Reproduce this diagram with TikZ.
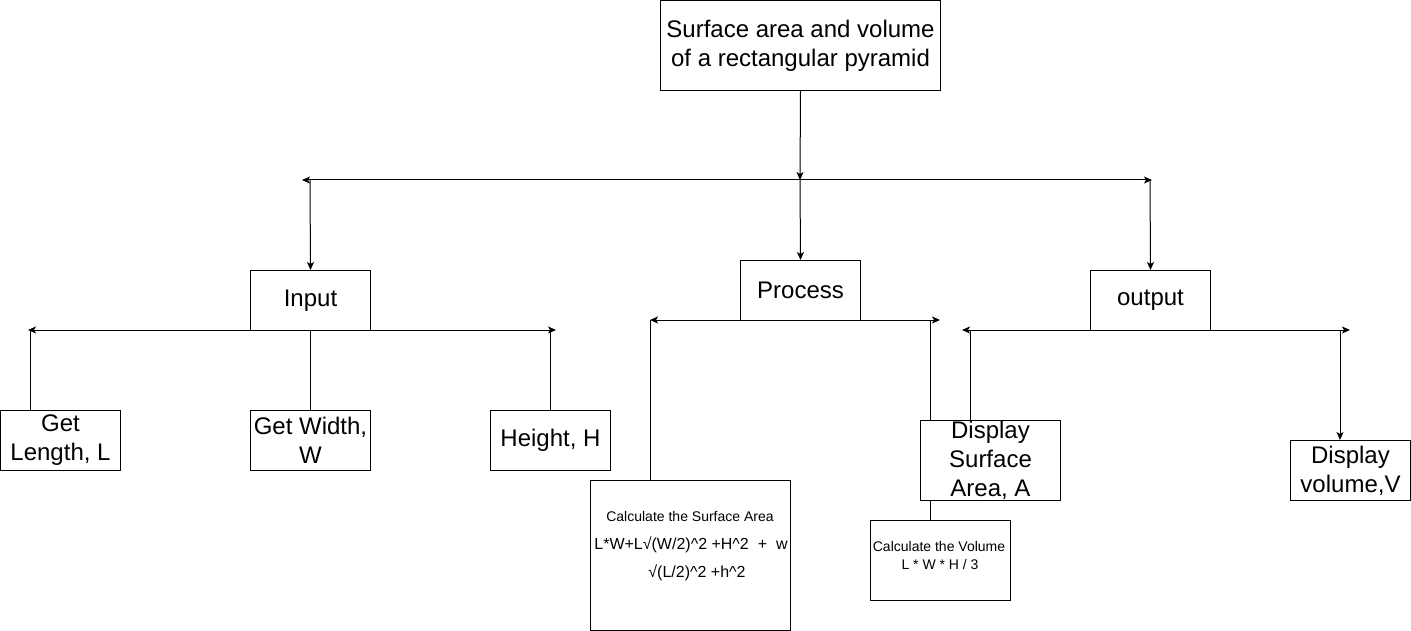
\documentclass[tikz,border=0pt]{standalone}
\usepackage{fontspec}
\setmainfont{Liberation Sans}
\usetikzlibrary{arrows.meta,backgrounds}
\begin{document}
\begin{tikzpicture}[x=1pt,y=-1pt,
  box/.style={draw, line width=1pt, fill=white, inner sep=0pt, anchor=north west, align=center, font=\fontsize{24}{28.8}\selectfont},
  small/.style={inner sep=0pt, anchor=base, font=\fontsize{14}{16.8}\selectfont},
  mid/.style={inner sep=0pt, anchor=base, font=\fontsize{16}{19.2}\selectfont},
  conn/.style={line width=1pt},
  arr/.style={conn, -{Stealth[length=8pt,width=7pt,inset=2pt]}},
  darr/.style={conn, {Stealth[length=8pt,width=7pt,inset=2pt]}-{Stealth[length=8pt,width=7pt,inset=2pt]}}
]
\useasboundingbox (0,0) rectangle (1411,631);
% boxes
\node[box, minimum width=280pt, minimum height=90pt] (top) at (660,0) {Surface area and volume\\of a rectangular pyramid};
\node[box, minimum width=120pt, minimum height=60pt] (input) at (250,270) {Input};
\node[box, minimum width=120pt, minimum height=60pt] (process) at (740,260) {Process};
\node[box, minimum width=120pt, minimum height=60pt] (output) at (1090,270) {output};
\node[box, minimum width=120pt, minimum height=60pt] (len) at (0,410) {Get\\Length, L};
\node[box, minimum width=120pt, minimum height=60pt] (wid) at (250,410) {Get Width,\\W};
\node[box, minimum width=120pt, minimum height=60pt] (hei) at (490,410) {Height, H};
\node[box, minimum width=200pt, minimum height=150pt] (calcsa) at (590,480) {};
\node[small] (satext1) at (690,521) {Calculate the Surface Area};
\node[mid] (satext2) at (691,549) {L*W+L√(W/2)\^{}2 +H\^{}2\ \ +\ \ w};
\node[mid] (satext3) at (697,577) {√(L/2)\^{}2 +h\^{}2};
\node[box, minimum width=140pt, minimum height=80pt] (dispsa) at (920,420) {Display\\Surface\\Area, A};
\node[box, minimum width=140pt, minimum height=80pt] (calcvol) at (870,520) {};
\node[small] (voltext1) at (939,551) {Calculate the Volume};
\node[small] (voltext2) at (940,569) {L * W * H / 3};
\node[box, minimum width=120pt, minimum height=60pt] (dispvol) at (1290,440) {Display\\volume,V};
% coordinates
\coordinate (hl) at (302,180);
\coordinate (hr) at (1152,180);
\coordinate (hm) at (800,180);
\coordinate (hil) at (310,180);
\coordinate (hor) at (1150,180);
\coordinate (il) at (28,330);
\coordinate (ir) at (556,330);
\coordinate (ia) at (30,330);
\coordinate (ic) at (550,330);
\coordinate (pl) at (650,320);
\coordinate (pr) at (940,320);
\coordinate (pb) at (930,320);
\coordinate (ol) at (962,330);
\coordinate (or) at (1350,330);
\coordinate (oa) at (970,330);
\coordinate (ob) at (1340,330);
\begin{scope}[on background layer]
\draw[arr] (top.south) -- (hm);
\draw[darr] (hl) -- (hr);
\draw[arr] (hil) -- (input.north);
\draw[arr] (hm) -- (process.north);
\draw[arr] (hor) -- (output.north);
\draw[darr] (il) -- (ir);
\draw[conn] (ia) -- (ia |- len.north);
\draw[conn] (input.south) -- (wid.north);
\draw[conn] (ic) -- (ic |- hei.north);
\draw[darr] (pl) -- (pr);
\draw[conn] (pl) -- (pl |- calcsa.north);
\draw[conn] (pb) -- (pb |- calcvol.north);
\draw[darr] (ol) -- (or);
\draw[conn] (oa) -- (oa |- dispsa.north);
\draw[arr] (ob) -- (ob |- dispvol.north);
\end{scope}
\end{tikzpicture}
\end{document}
